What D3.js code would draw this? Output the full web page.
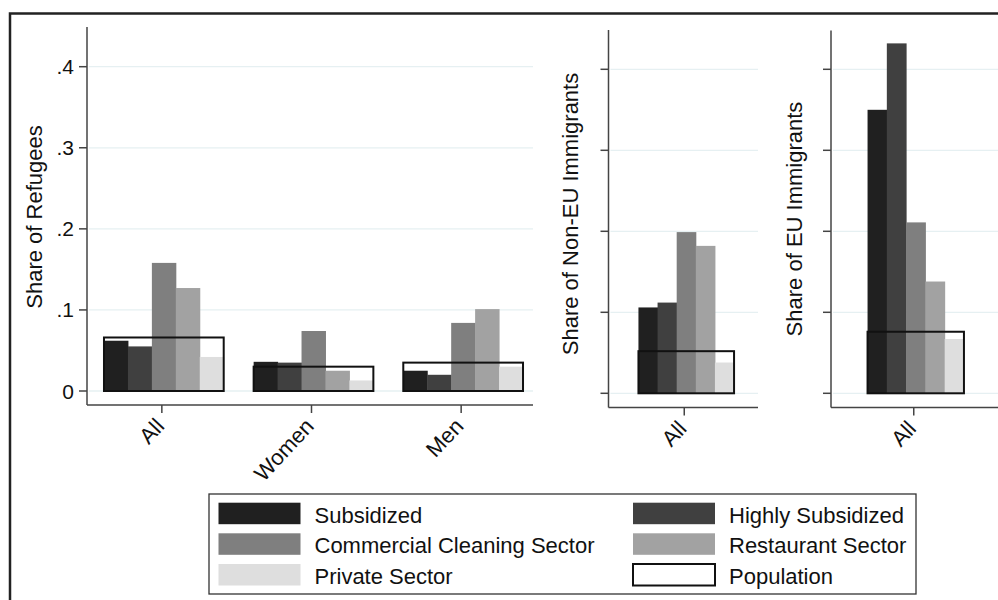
<!DOCTYPE html>
<html>
<head>
<meta charset="utf-8">
<script src="https://cdn.jsdelivr.net/npm/d3@7"></script>
<style>
  body { margin: 0; background: #fff; }
  text { font-family: "Liberation Sans", Arial, sans-serif; fill: #111; }
</style>
</head>
<body>
<div id="graph"></div>
<script>
// series names (legend order)
const seriesNames = ["Subsidized", "Highly Subsidized", "Commercial Cleaning Sector", "Restaurant Sector", "Private Sector"];
const seriesColors = ["#202020", "#404040", "#7f7f7f", "#a2a2a2", "#dedede"];

// refugees panel, one value per group
const refugeeGroups = ["All", "Women", "Men"];
const refSubsidized = [0.062, 0.036, 0.025];
const refHighly = [0.055, 0.035, 0.020];
const refCleaning = [0.158, 0.074, 0.084];
const refRestaurant = [0.127, 0.025, 0.101];
const refPrivate = [0.042, 0.013, 0.030];
const refPopulation = [0.066, 0.030, 0.035];

// non-EU immigrants panel
const nonEUGroups = ["All"];
const nonEUValues = [0.106, 0.112, 0.199, 0.182, 0.038];
const nonEUPopulation = [0.052];

// EU immigrants panel
const euGroups = ["All"];
const euValues = [0.350, 0.432, 0.211, 0.138, 0.067];
const euPopulation = [0.076];

const yTicks = [0, 0.1, 0.2, 0.3, 0.4];
const yTickLabels = ["0", ".1", ".2", ".3", ".4"];

const W = 998, H = 600;
const svg = d3.select("#graph").append("svg").attr("width", W).attr("height", H);

// outer frame (runs off the bottom/right of the picture)
svg.append("rect")
  .attr("x", 10).attr("y", 13.5).attr("width", 1000).attr("height", 600)
  .attr("fill", "none").attr("stroke", "#222").attr("stroke-width", 2.5);

//build rows of {group, values[], pop}
function makeRows(groups, cols, pop) {
  return groups.map((g, i) => ({ group: g, values: cols.map(c => c[i]), pop: pop[i] }));
}

function drawPanel(opt) {
  let g = svg.append("g");
  let y = d3.scaleLinear().domain([0, 0.4]).range([opt.y0, opt.y4]);
  let x = d3.scaleBand().domain(opt.rows.map(d => d.group))
    .range(opt.barRange).paddingInner(0.2).paddingOuter(opt.outer);
  let xs = d3.scaleBand().domain(d3.range(seriesNames.length)).range([0, x.bandwidth()]);

  // gridlines
  g.selectAll(".grid").data(yTicks).enter().append("line")
    .attr("x1", opt.axisX + 2).attr("x2", opt.axisEnd)
    .attr("y1", d => y(d)).attr("y2", d => y(d))
    .attr("stroke", "#e6f0f2").attr("stroke-width", 1.3);

  // bars
  let grp = g.selectAll(".grp").data(opt.rows).enter().append("g")
    .attr("transform", d => "translate(" + x(d.group) + ",0)");
  grp.selectAll("rect").data(d => d.values).enter().append("rect")
    .attr("x", (d, i) => xs(i))
    .attr("width", xs.bandwidth() + 0.5)
    .attr("y", d => y(d))
    .attr("height", d => y(0) - y(d))
    .attr("fill", (d, i) => seriesColors[i]);
  // population outline
  grp.append("rect")
    .attr("x", 0).attr("width", x.bandwidth())
    .attr("y", d => y(d.pop)).attr("height", d => y(0) - y(d.pop))
    .attr("fill", "none").attr("stroke", "#111").attr("stroke-width", 2);

  // y axis
  g.append("line").attr("x1", opt.axisX).attr("x2", opt.axisX)
    .attr("y1", opt.axisTop).attr("y2", opt.axisBottom)
    .attr("stroke", "#444").attr("stroke-width", 1.5);
  g.selectAll(".ytick").data(yTicks).enter().append("line")
    .attr("x1", opt.axisX - 8).attr("x2", opt.axisX)
    .attr("y1", d => y(d)).attr("y2", d => y(d))
    .attr("stroke", "#444").attr("stroke-width", 1.5);
  if (opt.labels) {
    g.selectAll(".ylab").data(yTicks).enter().append("text")
      .attr("x", opt.axisX - 13).attr("y", d => y(d)).attr("dy", "0.36em")
      .attr("text-anchor", "end").style("font-size", "21px")
      .text((d, i) => yTickLabels[i]);
  }
  // y title
  g.append("text")
    .attr("transform", "translate(" + opt.titleX + "," + opt.titleY + ") rotate(-90)")
    .attr("text-anchor", "middle").style("font-size", "22px")
    .text(opt.title);

  // x axis
  g.append("line").attr("x1", opt.axisX).attr("x2", opt.axisEnd)
    .attr("y1", opt.axisBottom).attr("y2", opt.axisBottom)
    .attr("stroke", "#444").attr("stroke-width", 1.5);
  opt.rows.forEach(d => {
    let cx = x(d.group) + x.bandwidth() / 2 - 2;
    g.append("line").attr("x1", cx).attr("x2", cx)
      .attr("y1", opt.axisBottom).attr("y2", opt.axisBottom + 8)
      .attr("stroke", "#444").attr("stroke-width", 1.5);
    g.append("text")
      .attr("transform", "translate(" + (cx - 2) + "," + (opt.axisBottom + 17) + ") rotate(-47)")
      .attr("text-anchor", "end").attr("dy", "0.35em").style("font-size", "22px")
      .text(d.group);
  });
}

drawPanel({
  rows: makeRows(refugeeGroups, [refSubsidized, refHighly, refCleaning, refRestaurant, refPrivate], refPopulation),
  y0: 391, y4: 66.7, axisX: 87, axisEnd: 533, axisTop: 27, axisBottom: 405,
  barRange: [98, 529], outer: 0.04, labels: true,
  title: "Share of Refugees", titleX: 42, titleY: 217
});
drawPanel({
  rows: makeRows(nonEUGroups, nonEUValues.map(v => [v]), nonEUPopulation),
  y0: 393.3, y4: 69.3, axisX: 608.5, axisEnd: 758, axisTop: 30, axisBottom: 407.5,
  barRange: [626.5, 746], outer: 0, labels: false,
  title: "Share of Non-EU Immigrants", titleX: 578, titleY: 214
});
drawPanel({
  rows: makeRows(euGroups, euValues.map(v => [v]), euPopulation),
  y0: 393.3, y4: 69.3, axisX: 831, axisEnd: 998, axisTop: 30.5, axisBottom: 407.5,
  barRange: [855.5, 976], outer: 0, labels: false,
  title: "Share of EU Immigrants", titleX: 802, titleY: 219
});

// legend
let legend = svg.append("g");
legend.append("rect").attr("x", 209).attr("y", 494).attr("width", 707).attr("height", 100)
  .attr("fill", "#fff").attr("stroke", "#333").attr("stroke-width", 1.3);
let legendItems = seriesNames.map((n, i) => ({ name: n, color: seriesColors[i], outline: false }));
legendItems.push({ name: "Population", color: "#fff", outline: true });
let rowY = [502.7, 533.3, 564];
let colX = [218.5, 633];
legendItems.forEach((d, i) => {
  let cx = colX[i % 2], ry = rowY[Math.floor(i / 2)];
  legend.append("rect").attr("x", cx).attr("y", ry).attr("width", 82).attr("height", 21.5)
    .attr("fill", d.color)
    .attr("stroke", d.outline ? "#111" : "none").attr("stroke-width", 2);
  legend.append("text").attr("x", cx + 96).attr("y", ry + 20)
    .style("font-size", "22px").text(d.name);
});
</script>
</body>
</html>
